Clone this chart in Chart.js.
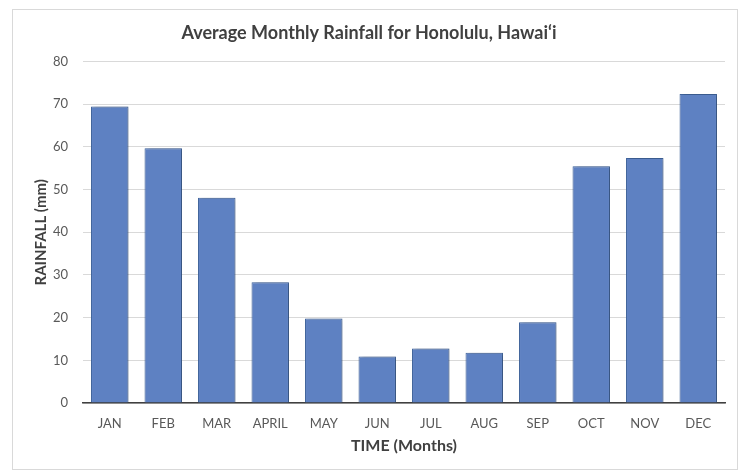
<!DOCTYPE html>
<html>
<head>
<meta charset="utf-8">
<script src="https://cdn.jsdelivr.net/npm/chart.js@4/dist/chart.umd.min.js"></script>
<style>
  html, body { margin: 0; padding: 0; background: #fff; }
  #wrap {
    position: absolute;
    left: 12px; top: 9px;
    width: 726px; height: 461px;
    border: 1px solid #d9d9d9;
    box-sizing: border-box;
  }
</style>
</head>
<body>
<div id="wrap"><canvas id="rainChart"></canvas></div>
<script>
const months = ["JAN", "FEB", "MAR", "APRIL", "MAY", "JUN", "JUL", "AUG", "SEP", "OCT", "NOV", "DEC"];
const rainfall = [69.5, 59.7, 48.1, 28.3, 19.8, 10.9, 12.8, 11.8, 18.9, 55.5, 57.4, 72.4];
const yTicks = [0, 10, 20, 30, 40, 50, 60, 70, 80];

const fontFamily = "Lato, 'Open Sans', sans-serif";

// soft shadow behind the bars, like the office chart
const barShadow = {
  id: "barShadow",
  beforeDatasetDraw(chart) {
    const c = chart.ctx;
    c.save();
    c.shadowColor = "rgba(0,0,0,0.25)";
    c.shadowBlur = 4;
    c.shadowOffsetX = 2;
    c.shadowOffsetY = 0;
  },
  afterDatasetDraw(chart) {
    chart.ctx.restore();
  },
};

const ctx = document.getElementById("rainChart").getContext("2d");
const rainChart = new Chart(ctx, {
  type: "bar",
  data: {
    labels: months,
    datasets: [
      {
        label: "Rainfall",
        data: rainfall,
        backgroundColor: "#5e81c2",
        borderColor: "#41669f",
        borderWidth: 1,
        barPercentage: 0.7,
        categoryPercentage: 1,
      },
    ],
  },
  plugins: [barShadow],
  options: {
    responsive: true,
    maintainAspectRatio: false,
    animation: false,
    layout: {
      padding: { left: 0, right: 12, top: 0, bottom: 0 },
    },
    plugins: {
      legend: { display: false },
      tooltip: { enabled: false },
      title: {
        display: true,
        text: "Average Monthly Rainfall for Honolulu, Hawai\u2018i",
        color: "#404040",
        font: { family: fontFamily, size: 18, weight: "bold" },
        padding: { top: 12, bottom: 18 },
      },
    },
    scales: {
      x: {
        grid: { display: false, drawTicks: false },
        border: { display: true, color: "#404040", width: 1.5 },
        ticks: {
          color: "#595959",
          font: { family: fontFamily, size: 13 },
          padding: 13,
        },
        title: {
          display: true,
          text: "TIME (Months)",
          color: "#404040",
          font: { family: fontFamily, size: 16, weight: "bold" },
          padding: { top: 6, bottom: 14 },
        },
        afterFit(scale) {
          scale.height = 66;
        },
      },
      y: {
        min: 0,
        max: 80,
        afterBuildTicks(scale) {
          scale.ticks = yTicks.map((v) => ({ value: v }));
        },
        grid: { color: "#d9d9d9", drawTicks: false },
        border: { display: false },
        ticks: {
          color: "#595959",
          font: { family: fontFamily, size: 13 },
          padding: 15,
        },
        title: {
          display: true,
          text: "RAINFALL (mm)",
          color: "#404040",
          font: { family: fontFamily, size: 15, weight: "bold" },
          padding: { top: 19, bottom: 4 },
        },
        afterFit(scale) {
          scale.width = 70;
        },
      },
    },
  },
});
</script>
</body>
</html>
